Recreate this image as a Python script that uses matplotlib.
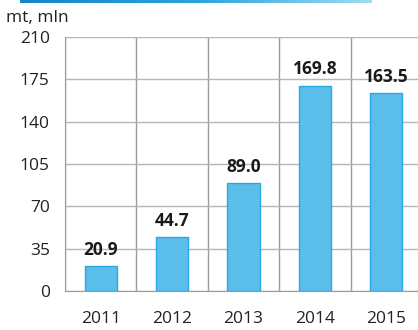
import numpy as np
import matplotlib.pyplot as plt
from matplotlib.colors import LinearSegmentedColormap

years = ['2011', '2012', '2013', '2014', '2015']
values = [20.9, 44.7, 89.0, 169.8, 163.5]
labels = ['20.9', '44.7', '89.0', '169.8', '163.5']
yticks = [0, 35, 70, 105, 140, 175, 210]

plt.rcParams['font.family'] = ['Open Sans', 'DejaVu Sans']

fig = plt.figure(figsize=(4.18, 3.3), dpi=100)
ax = fig.add_axes([0.1555, 0.118, 0.854, 0.770])

x = np.arange(len(years))
ax.bar(x, values, width=0.45, color='#5bbde9', edgecolor='#2aa9e0', linewidth=1, zorder=3)
for xi, v, lab in zip(x, values, labels):
    ax.text(xi, v + 6, lab, ha='center', va='bottom', fontsize=12.5,
            fontweight='bold', color='#1a1a1a', zorder=4)

ax.set_xlim(-0.5, 4.5)
ax.set_ylim(0, 210)
ax.set_yticks(yticks)
ax.set_xticks(x)
ax.set_xticklabels(years)
ax.set_xticks(np.arange(-0.5, 5, 1), minor=True)
ax.grid(axis='y', color='#b5b5b5', linewidth=1, zorder=0)
ax.grid(axis='x', which='minor', color='#9a9a9a', linewidth=1, zorder=0)
ax.tick_params(axis='both', which='both', length=0, labelsize=12.5, colors='#222222')
ax.tick_params(axis='x', pad=14)
ax.tick_params(axis='y', pad=11)
for s in ['top', 'right']:
    ax.spines[s].set_visible(False)
for s in ['left', 'bottom']:
    ax.spines[s].set_color('#9a9a9a')

fig.text(0.015, 0.945, 'mt, mln', fontsize=12.5, color='#222222', va='center')

# header stripe
hax = fig.add_axes([0.048, 0.99, 0.84, 0.012])
grad = np.linspace(0, 1, 256).reshape(1, -1)
cmap = LinearSegmentedColormap.from_list('hdr', ['#1784c8', '#2aa3dc', '#9fdcf2'])
hax.imshow(grad, aspect='auto', cmap=cmap)
hax.axis('off')

fig.savefig('out.png', dpi=100)
